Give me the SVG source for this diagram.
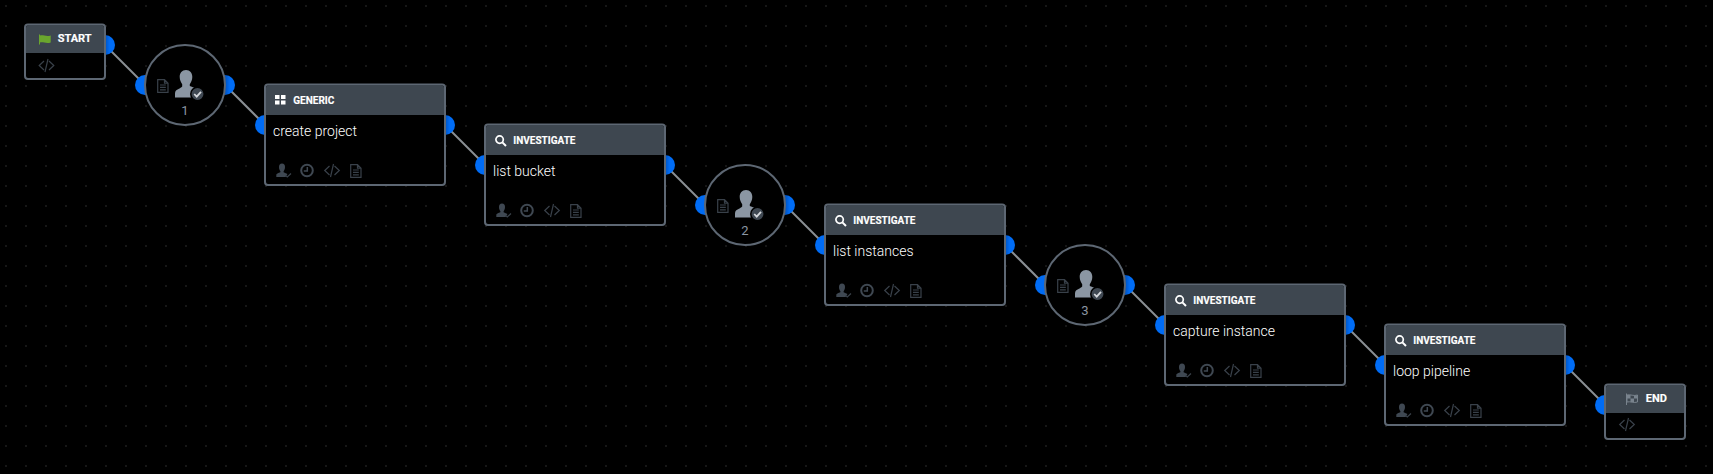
<svg xmlns="http://www.w3.org/2000/svg" width="1713" height="474" viewBox="0 0 1713 474">
<style>
.box{fill:#000;stroke:#5d6773;stroke-width:2}
.hdr{fill:#3e4750}
.t{font-family:Roboto,"Liberation Sans",sans-serif;font-weight:700;font-size:10px;fill:#fff;stroke:#fff;stroke-width:0.15}
.t2{font-size:11px}
.n{font-family:Roboto,"Liberation Sans",sans-serif;font-weight:300;font-size:14px;fill:#fff}
.num{font-family:Roboto,"Liberation Sans",sans-serif;font-size:13px;fill:#8b96a3;text-anchor:middle}
.port{fill:#006cf5}
.portR{fill:url(#pr)}
.wire{stroke:#8a8f94;stroke-width:2;fill:none}
.ic{fill:none;stroke:#39414a;stroke-width:1.2}
.clk{fill:none;stroke:#3f4852;stroke-width:2}
.solid{fill:#3f4852}
</style>
<defs>
<linearGradient id="pr"><stop offset="0.5" stop-color="#0052bd"/><stop offset="0.72" stop-color="#006cf5"/></linearGradient>
<pattern id="grid" width="20" height="20" patternUnits="userSpaceOnUse" x="5" y="5"><rect width="2" height="2" fill="#171717"/></pattern>
<symbol id="doc" overflow="visible"><path class="ic" d="M0.7 0.7H7.5L11 4.2V13.3H0.7Z M7.5 0.7V4.2H11 M3 6H8.8 M3 8.4H8.8 M3 10.8H8.8"/></symbol>
<symbol id="code" overflow="visible"><path class="ic" d="M5.500 2L0.700 6.500L5.500 11 M9.500 0L6.500 13 M10.500 2L15.300 6.500L10.500 11"/></symbol>
<symbol id="clock" overflow="visible"><circle class="clk" cx="7" cy="6.500" r="5.800"/><path class="ic" style="stroke-width:1.500;stroke:#3f4852" d="M7.300 3V7H3.800"/></symbol>
<symbol id="userok" overflow="visible"><path class="solid" d="M6 0.500C8 0.500 9 2 9 4C9 6 8.200 7.500 7.600 8.200V9.300C9 10 10.500 10.500 11.500 11L9.500 14H0.300V12C0.300 11 1 10.500 4.400 9.300V8.200C3.700 7.400 3 6 3 4C3 2 4 0.500 6 0.500Z"/><path class="ic" d="M9.500 12.500L11.300 14L15 10.500"/></symbol>
<symbol id="bigman" overflow="visible"><path fill="#8b96a3" d="M11 0C15 0 17.300 3 17.300 7C17.300 10 16 12.500 14.800 14.200V16C17 17 19 17.600 21 18.600L21 27.500H0V23.500C0 21 1.500 19.800 3.500 19C5 18.200 6.200 17.600 7.200 16.500V14.200C6 12.500 4.700 10 4.700 7C4.700 3 7 0 11 0Z"/><circle cx="22.500" cy="24" r="6.700" fill="#3f4852" stroke="#000" stroke-width="1.500"/><path fill="none" stroke="#d5d9dd" stroke-width="1.800" d="M19.200 24L21.700 26.600L26 21.800"/></symbol>
<symbol id="search" overflow="visible"><circle cx="4.600" cy="4.600" r="3.700" fill="none" stroke="#fff" stroke-width="1.700"/><path stroke="#fff" stroke-width="2" d="M7.400 7.400L11 11"/></symbol>
<symbol id="icons" overflow="visible"><use href="#userok" x="0" y="0"/><use href="#clock" x="24" y="1"/><use href="#code" x="48" y="1"/><use href="#doc" x="74" y="1"/></symbol>
</defs>
<rect width="1713" height="474" fill="#000"/>
<rect width="1713" height="474" fill="url(#grid)"/>
<g id="connectors">
<path class="wire" d="M105 45L145 85"/><path class="wire" d="M225 85L265 125"/><path class="wire" d="M445 125L485 165"/><path class="wire" d="M665 165L705 205"/><path class="wire" d="M785 205L825 245"/><path class="wire" d="M1005 245L1045 285"/><path class="wire" d="M1125 285L1165 325"/><path class="wire" d="M1345 325L1385 365"/><path class="wire" d="M1565 365L1605 405"/>
</g>
<g id="start">
<circle class="portR" cx="105" cy="45" r="10"/>
<rect class="box" x="25" y="24.500" width="80" height="54.500" rx="3"/>
<path class="hdr" d="M26 28a3 3 0 0 1 3-3H101a3 3 0 0 1 3 3V53H26Z"/>
<path fill="#6aa62e" d="M39 34.500H40V35.500C43 34.500 46 37 50.700 35.500V42.500C46 44 43 41.500 40 42.500V44.500H39Z"/>
<text class="t t2" x="57.700" y="42.300">START</text>
<use href="#code" x="38.500" y="59"/>
</g>
<g id="task1">
<circle class="port" cx="145" cy="85" r="10"/><circle class="portR" cx="225" cy="85" r="10"/>
<circle class="box" cx="185" cy="85" r="40"/>
<use href="#doc" x="157" y="79"/><use href="#bigman" x="175" y="70"/>
<text class="num" x="185" y="115">1</text>
</g>
<g id="generic">
<circle class="port" cx="265" cy="125" r="10"/><circle class="portR" cx="445" cy="125" r="10"/>
<rect class="box" x="265" y="84.500" width="180" height="100.500" rx="3"/>
<path class="hdr" d="M266 88a3 3 0 0 1 3-3H441a3 3 0 0 1 3 3V115H266Z"/>
<path fill="#fff" d="M275 95h4.500v4h-4.500zM281 95h4.500v4h-4.500zM275 100.500h4.500v4h-4.500zM281 100.500h4.500v4h-4.500z"/>
<text class="t" x="293.300" y="104">GENERIC</text>
<text class="n" x="273" y="136">create project</text>
<use href="#icons" x="276" y="163"/>
</g>
<g id="list-bucket">
<circle class="port" cx="485" cy="165" r="10"/><circle class="portR" cx="665" cy="165" r="10"/>
<rect class="box" x="485" y="124.500" width="180" height="100.500" rx="3"/>
<path class="hdr" d="M486 128a3 3 0 0 1 3-3H661a3 3 0 0 1 3 3V155H486Z"/>
<use href="#search" x="495" y="135"/>
<text class="t" x="513.300" y="144">INVESTIGATE</text>
<text class="n" x="493" y="176">list bucket</text>
<use href="#icons" x="496" y="203"/>
</g>
<g id="task2">
<circle class="port" cx="705" cy="205" r="10"/><circle class="portR" cx="785" cy="205" r="10"/>
<circle class="box" cx="745" cy="205" r="40"/>
<use href="#doc" x="717" y="199"/><use href="#bigman" x="735" y="190"/>
<text class="num" x="745" y="235">2</text>
</g>
<g id="list-instances">
<circle class="port" cx="825" cy="245" r="10"/><circle class="portR" cx="1005" cy="245" r="10"/>
<rect class="box" x="825" y="204.500" width="180" height="100.500" rx="3"/>
<path class="hdr" d="M826 208a3 3 0 0 1 3-3H1001a3 3 0 0 1 3 3V235H826Z"/>
<use href="#search" x="835" y="215"/>
<text class="t" x="853.300" y="224">INVESTIGATE</text>
<text class="n" x="833" y="256">list instances</text>
<use href="#icons" x="836" y="283"/>
</g>
<g id="task3">
<circle class="port" cx="1045" cy="285" r="10"/><circle class="portR" cx="1125" cy="285" r="10"/>
<circle class="box" cx="1085" cy="285" r="40"/>
<use href="#doc" x="1057" y="279"/><use href="#bigman" x="1075" y="270"/>
<text class="num" x="1085" y="315">3</text>
</g>
<g id="capture-instance">
<circle class="port" cx="1165" cy="325" r="10"/><circle class="portR" cx="1345" cy="325" r="10"/>
<rect class="box" x="1165" y="284.500" width="180" height="100.500" rx="3"/>
<path class="hdr" d="M1166 288a3 3 0 0 1 3-3H1341a3 3 0 0 1 3 3V315H1166Z"/>
<use href="#search" x="1175" y="295"/>
<text class="t" x="1193.300" y="304">INVESTIGATE</text>
<text class="n" x="1173" y="336">capture instance</text>
<use href="#icons" x="1176" y="363"/>
</g>
<g id="loop-pipeline">
<circle class="port" cx="1385" cy="365" r="10"/><circle class="portR" cx="1565" cy="365" r="10"/>
<rect class="box" x="1385" y="324.500" width="180" height="100.500" rx="3"/>
<path class="hdr" d="M1386 328a3 3 0 0 1 3-3H1561a3 3 0 0 1 3 3V355H1386Z"/>
<use href="#search" x="1395" y="335"/>
<text class="t" x="1413.300" y="344">INVESTIGATE</text>
<text class="n" x="1393" y="376">loop pipeline</text>
<use href="#icons" x="1396" y="403"/>
</g>
<g id="end">
<circle class="port" cx="1605" cy="405" r="10"/>
<rect class="box" x="1605" y="384.500" width="80" height="54.500" rx="3"/>
<path class="hdr" d="M1606 388a3 3 0 0 1 3-3H1681a3 3 0 0 1 3 3V413H1606Z"/>
<path fill="none" stroke="#79838d" stroke-width="1" d="M1626.500 393.500V405M1627 395C1630 394 1634 396.500 1637.500 395V402C1634 403.500 1630 401 1627 402Z"/>
<path fill="#79838d" d="M1627 395h3.500v3.500h-3.500zM1634 395.500h3.500v3h-3.500zM1630.500 398.500h3.500v3.500h-3.500z"/>
<text class="t t2" x="1645.700" y="402.300">END</text>
<use href="#code" x="1619" y="418"/>
</g>
</svg>
